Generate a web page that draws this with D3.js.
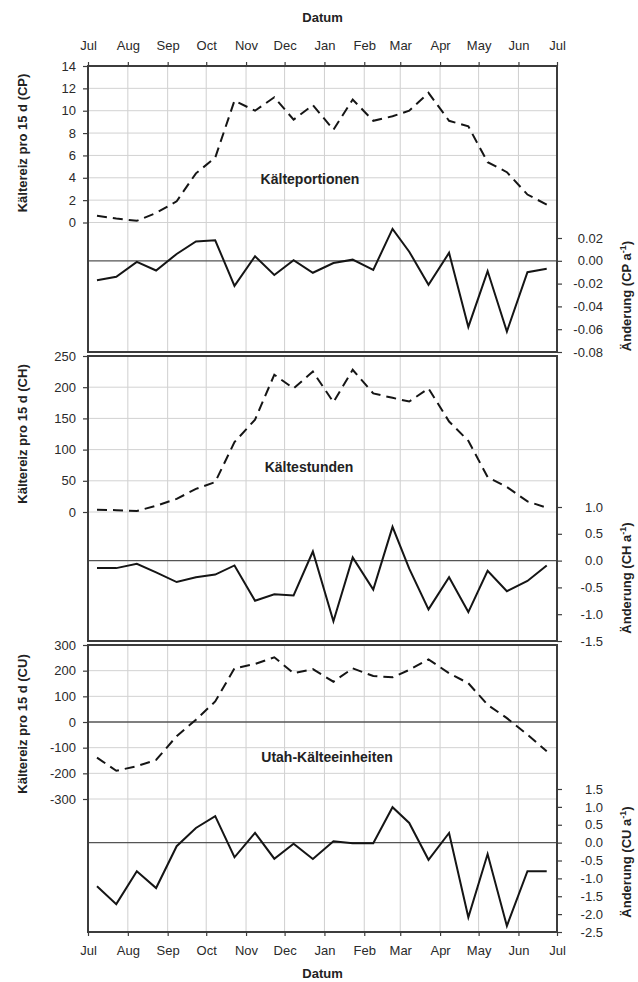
<!DOCTYPE html>
<html>
<head>
<meta charset="utf-8">
<title>Kältereiz</title>
<script src="https://d3js.org/d3.v7.min.js"></script>
<style>
    body { margin: 0; background: #fff; }
    text { font-family: "Liberation Sans", Arial, sans-serif; }
</style>
</head>
<body>
<script type="text/javascript">

    // Month labels along the date axis
    var months = ["Jul", "Aug", "Sep", "Oct", "Nov", "Dec", "Jan", "Feb", "Mar", "Apr", "May", "Jun", "Jul"];
    var monthStarts = ["2000-07-01", "2000-08-01", "2000-09-01", "2000-10-01", "2000-11-01", "2000-12-01",
        "2001-01-01", "2001-02-01", "2001-03-01", "2001-04-01", "2001-05-01", "2001-06-01", "2001-07-01"];

    // centre of each 15 day period
    var periods = ["2000-07-08", "2000-07-23", "2000-08-08", "2000-08-23", "2000-09-08", "2000-09-23",
        "2000-10-08", "2000-10-23", "2000-11-08", "2000-11-23", "2000-12-08", "2000-12-23",
        "2001-01-08", "2001-01-23", "2001-02-08", "2001-02-23", "2001-03-08", "2001-03-23",
        "2001-04-08", "2001-04-23", "2001-05-08", "2001-05-23", "2001-06-08", "2001-06-23"];

    // Chill portions (CP) per 15 d and its change per year
    var cp = [0.6, 0.35, 0.15, 0.85, 1.9, 4.4, 5.8, 10.9, 10.0, 11.2, 9.2, 10.5,
        8.3, 11.0, 9.1, 9.5, 10.0, 11.6, 9.1, 8.6, 5.4, 4.5, 2.5, 1.6];
    var cpChange = [-0.017, -0.014, -0.001, -0.0085, 0.006, 0.017, 0.018, -0.022, 0.004, -0.0125, 0.0005, -0.0105,
        -0.002, 0.001, -0.008, 0.028, 0.008, -0.021, 0.007, -0.058, -0.009, -0.062, -0.010, -0.007];

    // Chill hours (CH)
    var ch = [3.5, 3, 1.5, 10, 21, 37, 48, 112, 148, 220, 198, 225,
        176, 228, 190, 183, 177, 198, 145, 114, 56, 40, 17, 7];
    var chChange = [-0.14, -0.14, -0.06, -0.22, -0.40, -0.31, -0.26, -0.09, -0.75, -0.63, -0.65, 0.17,
        -1.13, 0.06, -0.54, 0.63, -0.15, -0.91, -0.31, -0.96, -0.19, -0.57, -0.38, -0.09];

    // Utah chill units (CU)
    var cu = [-139, -190, -172, -148, -55, 9, 80, 209, 226, 252, 190, 206,
        157, 209, 179, 174, 203, 244, 190, 151, 67, 15, -49, -114];
    var cuChange = [-1.22, -1.72, -0.80, -1.27, -0.10, 0.41, 0.74, -0.41, 0.27, -0.45, -0.03, -0.46,
        0.04, -0.02, -0.02, 0.99, 0.55, -0.48, 0.27, -2.09, -0.32, -2.33, -0.80, -0.80];

    // tick values
    var cpTicks = [0, 2, 4, 6, 8, 10, 12, 14];
    var cpChangeTicks = [-0.08, -0.06, -0.04, -0.02, 0, 0.02];
    var chTicks = [0, 50, 100, 150, 200, 250];
    var chChangeTicks = [-1.5, -1, -0.5, 0, 0.5, 1];
    var cuTicks = [-300, -200, -100, 0, 100, 200, 300];
    var cuChangeTicks = [-2.5, -2, -1.5, -1, -0.5, 0, 0.5, 1, 1.5];

    var parseTime = d3.timeParse("%Y-%m-%d");
    var W = 638, H = 982;
    var left = 88, right = 557;

    var svg = d3.select("body").append("svg")
        .attr("width", W)
        .attr("height", H);

    var xScale = d3.scaleTime()
        .domain([parseTime(monthStarts[0]), parseTime(monthStarts[12])])
        .range([left, right]);

    // panel layout: pixel positions of two tick values for each axis
    var panels = [
        { top: 66, bottom: 352, title: "Kälteportionen", tx: 310, ty: 179, unit: "CP",
          values: cp, change: cpChange, ticks: cpTicks, changeTicks: cpChangeTicks, dec: 2,
          lAnchor: [[0, 222.5], [14, 66]], rAnchor: [[-0.08, 352], [0.02, 238]], leftZeroDark: false,
          lTitleY: 143, rTitleY: 296 },
        { top: 356, bottom: 641, title: "Kältestunden", tx: 309, ty: 467, unit: "CH",
          values: ch, change: chChange, ticks: chTicks, changeTicks: chChangeTicks, dec: 1,
          lAnchor: [[0, 512], [250, 356]], rAnchor: [[-1.5, 641], [1, 507]], leftZeroDark: false,
          lTitleY: 434, rTitleY: 578 },
        { top: 645, bottom: 932, title: "Utah-Kälteeinheiten", tx: 327, ty: 757, unit: "CU",
          values: cu, change: cuChange, ticks: cuTicks, changeTicks: cuChangeTicks, dec: 1,
          lAnchor: [[-300, 799], [300, 645]], rAnchor: [[-2.5, 932], [1.5, 789]], leftZeroDark: true,
          lTitleY: 724, rTitleY: 862 }
    ];

    var frameColor = "#3c3c3c";

    panels.forEach(function (p) {
        var yL = d3.scaleLinear()
            .domain([p.lAnchor[0][0], p.lAnchor[1][0]])
            .range([p.lAnchor[0][1], p.lAnchor[1][1]]);
        var yR = d3.scaleLinear()
            .domain([p.rAnchor[0][0], p.rAnchor[1][0]])
            .range([p.rAnchor[0][1], p.rAnchor[1][1]]);

        var g = svg.append("g");

        // vertical month gridlines
        g.selectAll(".vgrid")
            .data(monthStarts.slice(1, 12))
            .enter().append("line")
            .attr("x1", function (d) { return xScale(parseTime(d)); })
            .attr("x2", function (d) { return xScale(parseTime(d)); })
            .attr("y1", p.top)
            .attr("y2", p.bottom)
            .attr("stroke", "#cfcfcf")
            .attr("stroke-width", 1);

        // horizontal gridlines for left axis
        g.selectAll(".hgrid")
            .data(p.ticks)
            .enter().append("line")
            .attr("x1", left)
            .attr("x2", right)
            .attr("y1", function (d) { return yL(d); })
            .attr("y2", function (d) { return yL(d); })
            .attr("stroke", function (d) { return (d === 0 && p.leftZeroDark) ? "#555" : "#d2d2d2"; })
            .attr("stroke-width", function (d) { return (d === 0 && p.leftZeroDark) ? 1.3 : 1; });

        // zero line of the change axis
        g.append("line")
            .attr("x1", left)
            .attr("x2", right)
            .attr("y1", yR(0))
            .attr("y2", yR(0))
            .attr("stroke", "#555")
            .attr("stroke-width", 1.3);

        // dashed line: chill per 15 d
        var line = d3.line()
            .x(function (d, i) { return xScale(parseTime(periods[i])); })
            .y(function (d) { return yL(d); });
        g.append("path")
            .attr("d", line(p.values))
            .attr("fill", "none")
            .attr("stroke", "#151515")
            .attr("stroke-width", 2)
            .attr("stroke-dasharray", "10,6");

        // solid line: change per year
        var lineR = d3.line()
            .x(function (d, i) { return xScale(parseTime(periods[i])); })
            .y(function (d) { return yR(d); });
        g.append("path")
            .attr("d", lineR(p.change))
            .attr("fill", "none")
            .attr("stroke", "#151515")
            .attr("stroke-width", 2)
            .attr("stroke-linejoin", "miter");

        // frame
        g.append("rect")
            .attr("x", left)
            .attr("y", p.top)
            .attr("width", right - left)
            .attr("height", p.bottom - p.top)
            .attr("fill", "none")
            .attr("stroke", frameColor)
            .attr("stroke-width", 2);

        // left axis
        var la = g.append("g")
            .attr("transform", "translate(" + left + ",0)")
            .call(d3.axisLeft(yL).tickValues(p.ticks).tickSize(5).tickPadding(7)
                .tickFormat(function (d) { return String(d); }));
        la.select(".domain").remove();

        // right axis
        var ra = g.append("g")
            .attr("transform", "translate(" + right + ",0)")
            .call(d3.axisRight(yR).tickValues(p.changeTicks).tickSize(5)
                .tickFormat(function (d) { return d.toFixed(p.dec); }));
        ra.select(".domain").remove();
        ra.selectAll("text").attr("text-anchor", "end").attr("x", 46);

        [la, ra].forEach(function (a) {
            a.selectAll("line").attr("stroke", frameColor).attr("stroke-width", 1.2);
            a.selectAll("text")
                .style("font-size", "13px")
                .style("font-family", "'Liberation Sans', Arial, sans-serif")
                .attr("fill", "#2a2a2a");
        });

        // panel label
        g.append("text")
            .attr("x", p.tx)
            .attr("y", p.ty)
            .attr("dy", "0.35em")
            .attr("text-anchor", "middle")
            .style("font-size", "14px")
            .style("font-weight", "bold")
            .attr("fill", "#222")
            .text(p.title);

        // left axis title
        g.append("text")
            .attr("transform", "translate(22," + p.lTitleY + ") rotate(-90)")
            .attr("text-anchor", "middle")
            .attr("dy", "0.35em")
            .style("font-size", "13px")
            .style("font-weight", "bold")
            .attr("fill", "#222")
            .text("Kältereiz pro 15 d (" + p.unit + ")");

        // right axis title with superscript
        var rt = g.append("text")
            .attr("transform", "translate(626," + p.rTitleY + ") rotate(-90)")
            .attr("text-anchor", "middle")
            .attr("dy", "0.35em")
            .style("font-size", "13px")
            .style("font-weight", "bold")
            .attr("fill", "#222");
        rt.append("tspan").text("Änderung (" + p.unit + " a");
        rt.append("tspan").attr("dy", -5).style("font-size", "9px").text("-1");
        rt.append("tspan").attr("dy", 5).text(")");
    });

    // date axes top and bottom
    var topAxis = svg.append("g")
        .attr("transform", "translate(0," + panels[0].top + ")")
        .call(d3.axisTop(xScale)
            .tickValues(monthStarts.map(parseTime))
            .tickSize(4).tickPadding(12)
            .tickFormat(function (d, i) { return months[i]; }));

    var bottomAxis = svg.append("g")
        .attr("transform", "translate(0," + panels[2].bottom + ")")
        .call(d3.axisBottom(xScale)
            .tickValues(monthStarts.map(parseTime))
            .tickSize(4).tickPadding(10)
            .tickFormat(function (d, i) { return months[i]; }));

    [topAxis, bottomAxis].forEach(function (a) {
        a.select(".domain").remove();
        a.selectAll("line").attr("stroke", frameColor).attr("stroke-width", 1.2);
        a.selectAll("text")
            .style("font-size", "13px")
            .style("font-family", "'Liberation Sans', Arial, sans-serif")
            .attr("fill", "#2a2a2a");
    });

    // axis titles "Datum"
    svg.append("text")
        .attr("x", (left + right) / 2)
        .attr("y", 22)
        .attr("text-anchor", "middle")
        .style("font-size", "13px")
        .style("font-weight", "bold")
        .attr("fill", "#222")
        .text("Datum");

    svg.append("text")
        .attr("x", (left + right) / 2)
        .attr("y", 978)
        .attr("text-anchor", "middle")
        .style("font-size", "13px")
        .style("font-weight", "bold")
        .attr("fill", "#222")
        .text("Datum");

</script>
</body>
</html>
